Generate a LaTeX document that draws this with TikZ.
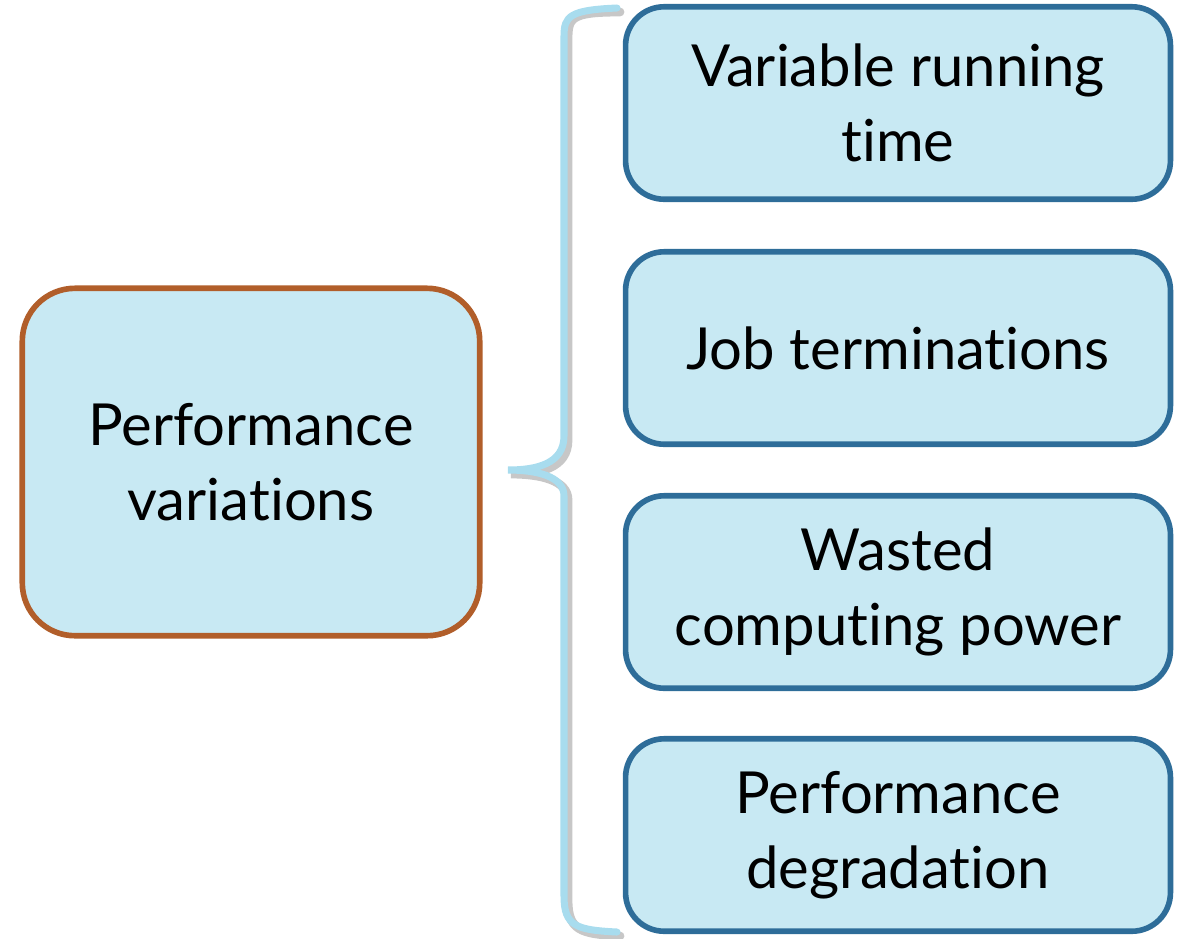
\documentclass[tikz,border=0pt]{standalone}
\usepackage{fontspec}
\setmainfont{Lato}[RawFeature={-liga}]
\usepackage{xcolor}
\definecolor{boxfill}{RGB}{200,233,243}
\definecolor{boxline}{RGB}{46,109,153}
\definecolor{rootline}{RGB}{177,94,42}
\definecolor{bracecol}{RGB}{168,220,238}

\begin{document}
\begin{tikzpicture}[x=0.02cm,y=-0.02cm]
  \tikzstyle{item}=[draw=boxline,fill=boxfill,line width=3.2pt,rectangle,rounded corners=22pt,minimum height=3.85cm,minimum width=10.9cm,align=center,font=\fontsize{33}{42.5}\selectfont]
  \tikzstyle{root}=[item,draw=rootline,rounded corners=30pt,minimum height=6.95cm,minimum width=9.15cm]
  \tikzstyle{brace}=[draw=bracecol,line width=4pt,line cap=round]

  \useasboundingbox (0,0) rectangle (1186,938);

  % Root box
  \node[root] (perf) at (251,462) {Performance\\variations};

  % Consequences
  \node[item] (vrt) at (898,103) {Variable running\\time};
  \node[item] (job) at (898,348) {Job terminations};
  \node[item] (waste) at (898,592) {Wasted\\computing power};
  \node[item] (degr) at (898,835) {Performance\\degradation};

  % Brace
  \coordinate (tip) at (508,470);
  \coordinate (top) at (617,8);
  \coordinate (bot) at (617,932);
  \draw[brace,draw=black!22,line width=5pt] ([shift={(3,4)}]top) .. controls (570,12) and (568,18) .. (568,40) -- (568,440)
    .. controls (568,468) and (540,474) .. ([shift={(3,4)}]tip)
    .. controls (540,474) and (568,480) .. (568,500) -- (568,900)
    .. controls (568,930) and (580,934) .. ([shift={(3,4)}]bot);
  \draw[brace] (top) .. controls (570,10) and (564,16) .. (564,36) -- (564,436)
    .. controls (564,464) and (536,470) .. (tip)
    .. controls (536,470) and (564,476) .. (564,496) -- (564,896)
    .. controls (564,926) and (576,930) .. (bot);
\end{tikzpicture}
\end{document}
